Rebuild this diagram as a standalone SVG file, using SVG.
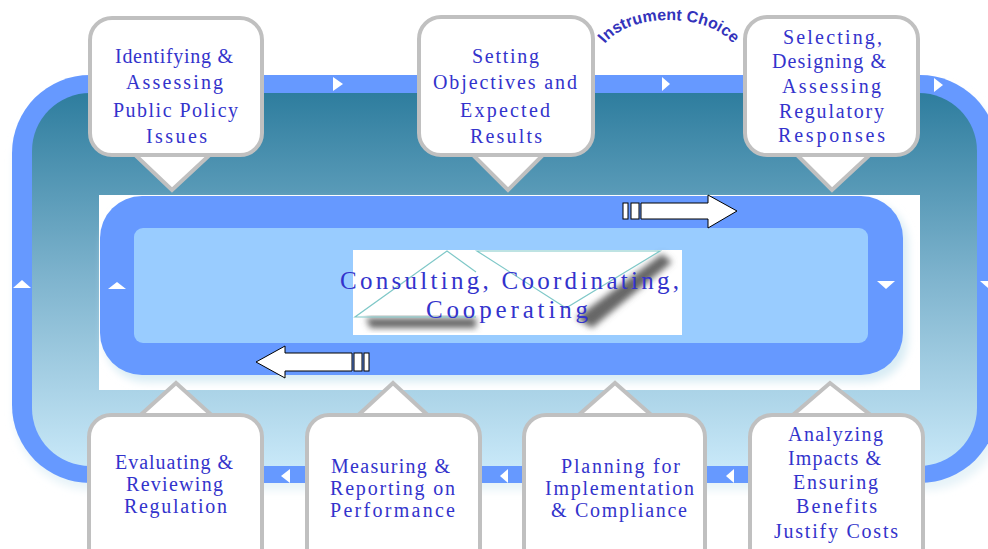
<svg xmlns="http://www.w3.org/2000/svg" width="988" height="549" viewBox="0 0 988 549">
<defs>
<linearGradient id="teal" x1="0" y1="0" x2="0" y2="1">
<stop offset="0" stop-color="#2e7d9e"/>
<stop offset="0.5" stop-color="#7fb4ce"/>
<stop offset="1" stop-color="#c8e8f8"/>
</linearGradient>
<filter id="soft" x="-10%" y="-10%" width="130%" height="140%">
<feGaussianBlur stdDeviation="4"/>
</filter>
<filter id="sh" x="-30%" y="-30%" width="160%" height="180%">
<feGaussianBlur stdDeviation="3"/>
</filter>
<style>
.lbl{font-family:"Liberation Serif","DejaVu Serif",serif;font-size:20px;fill:#3333cc;}
.ctr{font-family:"Liberation Serif","DejaVu Serif",serif;font-size:25px;fill:#3333cc;}
.box{fill:#ffffff;stroke:#c0c0c0;stroke-width:4;}
.mk{fill:#ffffff;}
.blk{fill:#ffffff;stroke:#000000;stroke-width:1;}
</style>
</defs>
<rect width="988" height="549" fill="#ffffff"/>

<g id="cycle">
<rect x="14" y="85" width="990" height="405" rx="78" fill="#e6f3f8" filter="url(#soft)"/>
<rect x="12" y="75" width="986" height="408" rx="78" fill="#6699ff"/>
<rect x="32" y="93" width="945" height="373" rx="58" fill="url(#teal)"/>
<polygon class="mk" points="333,77 333,91 343,84"/>
<polygon class="mk" points="662,77 662,91 670,84"/>
<polygon class="mk" points="934,78 934,92 943,85"/>
<polygon class="mk" points="13,288 31,288 22,280"/>
<polygon class="mk" points="980,281 998,281 989,289"/>
<polygon class="mk" points="281,476 290,469 290,483"/>
<polygon class="mk" points="500,476 508,469 508,483"/>
<polygon class="mk" points="726,476 734,469 734,483"/>
</g>

<g id="core">
<rect x="99" y="195" width="821" height="195" fill="#ffffff"/>
<rect x="104" y="202" width="804" height="180" rx="42" fill="#d8ecf4" filter="url(#soft)"/>
<rect x="100" y="196" width="803" height="179" rx="42" fill="#6699ff"/>
<rect x="134" y="228" width="734" height="115" rx="9" fill="#99ccff"/>
<polygon class="mk" points="108,289 126,289 117,282"/>
<polygon class="mk" points="877,281 895,281 886,289"/>
<rect x="353" y="250" width="329" height="85" fill="#ffffff"/>
<polygon points="366,318 476,318 476,328 370,328" fill="#666666" filter="url(#sh)"/>
<polygon points="662,254 672,262 592,328 576,318" fill="#666666" filter="url(#sh)"/>
<polyline points="476,272 447,251 355,317 476,317" fill="none" stroke="#7fc8c8" stroke-width="1.2"/>
<polygon points="477,251 660,251 566,308" fill="#ffffff" stroke="#7fc8c8" stroke-width="1.2"/>
<text class="ctr" x="340" y="289" textLength="339" lengthAdjust="spacing">Consulting, Coordinating,</text>
<text class="ctr" x="426" y="318" textLength="162" lengthAdjust="spacing">Cooperating</text>
</g>

<g id="connectors">
<rect class="blk" x="623" y="203" width="5" height="16"/>
<rect class="blk" x="631" y="203" width="8" height="16"/>
<polygon class="blk" points="641,203 708,203 708,195 737,211 708,228 708,219 641,219"/>
<polygon class="blk" points="256,362 285,346 285,353 352,353 352,371 285,371 285,378"/>
<rect class="blk" x="354" y="353" width="8" height="18"/>
<rect class="blk" x="364" y="353" width="5" height="18"/>
</g>

<g id="instrument-choice">
<path id="arc" d="M 599,60 A 70,40 0 0 1 739,60" fill="none"/>
<text font-family="'Liberation Sans',Arial,sans-serif" font-weight="bold" font-size="16" fill="#3333bb"><textPath href="#arc" startOffset="50%" text-anchor="middle">Instrument Choice</textPath></text>
</g>

<g id="n1-identifying">
<polygon class="box" points="130,150 172,190 215,150"/>
<rect class="box" x="90" y="18" width="172" height="137" rx="22"/>
<text class="lbl" x="115" y="63" textLength="118" lengthAdjust="spacing">Identifying &amp;</text>
<text class="lbl" x="126" y="89" textLength="97" lengthAdjust="spacing">Assessing</text>
<text class="lbl" x="113" y="117" textLength="125" lengthAdjust="spacing">Public Policy</text>
<text class="lbl" x="146" y="143" textLength="61" lengthAdjust="spacing">Issues</text>
</g>

<g id="n2-setting">
<polygon class="box" points="468,150 508,190 548,150"/>
<rect class="box" x="419" y="17" width="174" height="138" rx="22"/>
<text class="lbl" x="472" y="63" textLength="67" lengthAdjust="spacing">Setting</text>
<text class="lbl" x="433" y="89" textLength="144" lengthAdjust="spacing">Objectives and</text>
<text class="lbl" x="460" y="117" textLength="90" lengthAdjust="spacing">Expected</text>
<text class="lbl" x="470" y="143" textLength="72" lengthAdjust="spacing">Results</text>
</g>

<g id="n3-selecting">
<polygon class="box" points="792,150 832,190 875,150"/>
<rect class="box" x="745" y="17" width="173" height="138" rx="22"/>
<text class="lbl" x="783" y="44" textLength="99" lengthAdjust="spacing">Selecting,</text>
<text class="lbl" x="772" y="68" textLength="114" lengthAdjust="spacing">Designing &amp;</text>
<text class="lbl" x="782" y="93" textLength="99" lengthAdjust="spacing">Assessing</text>
<text class="lbl" x="779" y="118" textLength="105" lengthAdjust="spacing">Regulatory</text>
<text class="lbl" x="778" y="142" textLength="107" lengthAdjust="spacing">Responses</text>
</g>

<g id="n4-analyzing">
<polygon class="box" points="787,420 830,383 877,420"/>
<rect class="box" x="750" y="415" width="173" height="160" rx="22"/>
<text class="lbl" x="788" y="441" textLength="95" lengthAdjust="spacing">Analyzing</text>
<text class="lbl" x="788" y="465" textLength="93" lengthAdjust="spacing">Impacts &amp;</text>
<text class="lbl" x="793" y="489" textLength="85" lengthAdjust="spacing">Ensuring</text>
<text class="lbl" x="796" y="513" textLength="81" lengthAdjust="spacing">Benefits</text>
<text class="lbl" x="774" y="538" textLength="124" lengthAdjust="spacing">Justify Costs</text>
</g>

<g id="n5-planning">
<polygon class="box" points="573,420 615,383 657,420"/>
<rect class="box" x="524" y="415" width="181" height="160" rx="22"/>
<text class="lbl" x="561" y="473" textLength="119" lengthAdjust="spacing">Planning for</text>
<text class="lbl" x="545" y="495" textLength="149" lengthAdjust="spacing">Implementation</text>
<text class="lbl" x="551" y="517" textLength="136" lengthAdjust="spacing">&amp; Compliance</text>
</g>

<g id="n6-measuring">
<polygon class="box" points="353,420 393,383 433,420"/>
<rect class="box" x="307" y="415" width="173" height="160" rx="22"/>
<text class="lbl" x="331" y="473" textLength="119" lengthAdjust="spacing">Measuring &amp;</text>
<text class="lbl" x="330" y="495" textLength="125" lengthAdjust="spacing">Reporting on</text>
<text class="lbl" x="330" y="517" textLength="125" lengthAdjust="spacing">Performance</text>
</g>

<g id="n7-evaluating">
<polygon class="box" points="135,420 176,383 217,420"/>
<rect class="box" x="89" y="415" width="173" height="160" rx="22"/>
<text class="lbl" x="115" y="469" textLength="118" lengthAdjust="spacing">Evaluating &amp;</text>
<text class="lbl" x="126" y="491" textLength="97" lengthAdjust="spacing">Reviewing</text>
<text class="lbl" x="124" y="513" textLength="103" lengthAdjust="spacing">Regulation</text>
</g>
</svg>
